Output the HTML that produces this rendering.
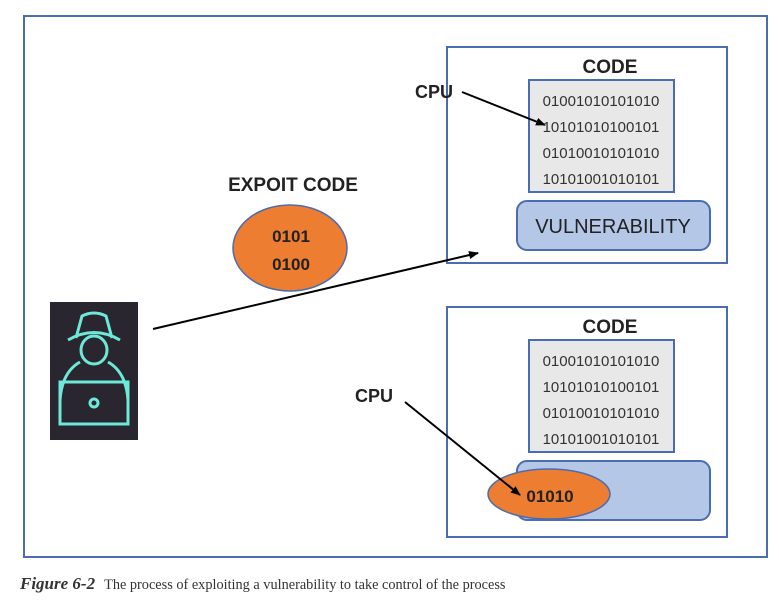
<!DOCTYPE html>
<html><head><style>
body{margin:0;background:#fff;width:779px;height:605px;overflow:hidden;position:relative;font-family:"Liberation Sans",sans-serif}
.a{position:absolute}
</style></head><body>
<svg class="a" style="left:0;top:0" width="779" height="605">
<defs><marker id="m" markerWidth="10" markerHeight="8" refX="9" refY="4" orient="auto" markerUnits="userSpaceOnUse"><path d="M0,0 L10,4 L0,8z" fill="#000"/></marker></defs>
<rect x="24" y="16" width="743" height="541" fill="#fff" stroke="#4a6cb0" stroke-width="2"/>
<rect x="447" y="47" width="280" height="216" fill="#fff" stroke="#4a6cb0" stroke-width="2"/>
<rect x="529" y="80" width="145" height="112" fill="#e8e8e8" stroke="#4a6cb0" stroke-width="2"/>
<rect x="517" y="201" width="193" height="49" rx="10" fill="#b4c7e7" stroke="#4a6cb0" stroke-width="2"/>
<rect x="447" y="307" width="280" height="230" fill="#fff" stroke="#4a6cb0" stroke-width="2"/>
<rect x="529" y="340" width="145" height="112" fill="#e8e8e8" stroke="#4a6cb0" stroke-width="2"/>
<rect x="517" y="461" width="193" height="59" rx="10" fill="#b4c7e7" stroke="#4a6cb0" stroke-width="2"/>
<ellipse cx="549" cy="494" rx="61" ry="25" fill="#ed7d31" stroke="#4a6cb0" stroke-width="1.5"/>
<ellipse cx="290" cy="248" rx="57" ry="43" fill="#ed7d31" stroke="#4a6cb0" stroke-width="1.5"/>
<rect x="50" y="302" width="88" height="138" fill="#2a2630"/>
<g fill="none" stroke="#6ee8d8" stroke-width="3">
<path d="M68,340 Q94,325 120,340 M76,338 L82,316 Q94,310 106,316 L112,338"/>
<ellipse cx="94" cy="350" rx="13" ry="14"/>
<path d="M60,400 Q62,372 80,362 M128,400 Q126,372 108,362"/>
<rect x="60" y="382" width="68" height="42"/>
<circle cx="94" cy="403" r="4"/>
</g>
<g stroke="#000" stroke-width="2" fill="none">
<line x1="153" y1="329" x2="478" y2="253" marker-end="url(#m)"/>
<line x1="462" y1="92" x2="545" y2="125" marker-end="url(#m)"/>
<line x1="405" y1="402" x2="520" y2="495" marker-end="url(#m)"/>
</g>
<g font-family="Liberation Sans,sans-serif" fill="#222">
<text x="610" y="73" font-size="19" font-weight="bold" text-anchor="middle">CODE</text>
<text x="610" y="333" font-size="19" font-weight="bold" text-anchor="middle">CODE</text>
<text x="415" y="98" font-size="18" font-weight="bold">CPU</text>
<text x="355" y="402" font-size="18" font-weight="bold">CPU</text>
<text x="293" y="191" font-size="19" font-weight="bold" text-anchor="middle">EXPOIT CODE</text>
<text x="291" y="242" font-size="17" font-weight="bold" text-anchor="middle">0101</text>
<text x="291" y="270" font-size="17" font-weight="bold" text-anchor="middle">0100</text>
<text x="550" y="502" font-size="17" font-weight="bold" text-anchor="middle">01010</text>
<text x="613" y="233" font-size="20" text-anchor="middle">VULNERABILITY</text>
<g font-size="15" text-anchor="middle" fill="#333">
<text x="601" y="106">01001010101010</text>
<text x="601" y="132">10101010100101</text>
<text x="601" y="158">01010010101010</text>
<text x="601" y="184">10101001010101</text>
<text x="601" y="366">01001010101010</text>
<text x="601" y="392">10101010100101</text>
<text x="601" y="418">01010010101010</text>
<text x="601" y="444">10101001010101</text>
</g>
</g>
<text x="20" y="589" font-family="Liberation Serif,serif" font-size="15" fill="#333"><tspan font-weight="bold" font-style="italic" font-size="17">Figure 6-2</tspan><tspan dx="9" font-size="14.3">The process of exploiting a vulnerability to take control of the process</tspan></text>
</svg>
</body></html>
